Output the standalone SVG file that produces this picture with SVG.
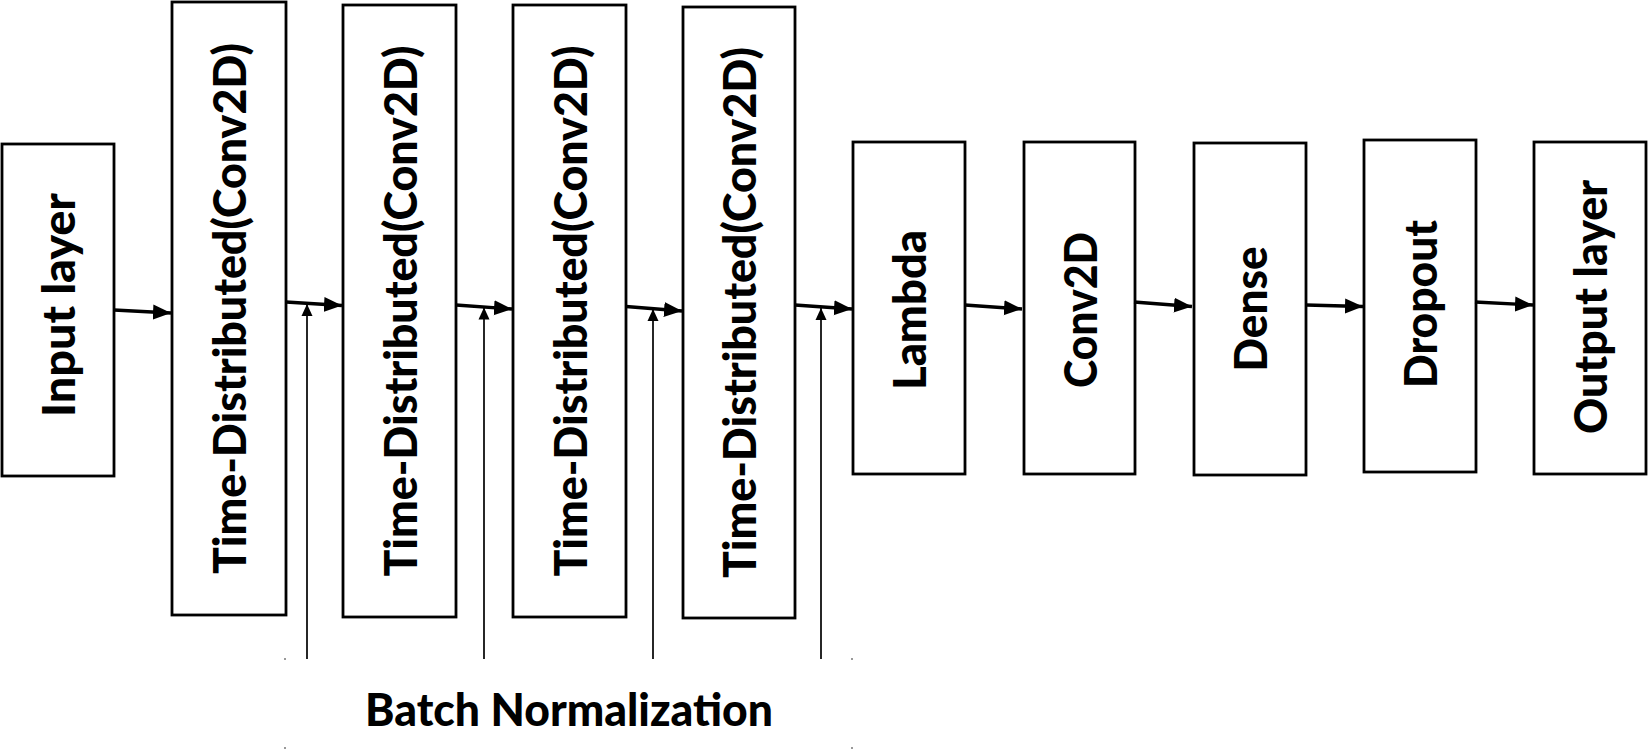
<svg xmlns="http://www.w3.org/2000/svg" width="1648" height="751" viewBox="0 0 1648 751">
<style>
.box{fill:#fff;stroke:#000;stroke-width:2.8}
.lbl{font-family:Lato,"Open Sans","Liberation Sans",sans-serif;font-weight:900;font-size:46px;fill:#000;text-anchor:middle}
.arr{stroke:#000;stroke-width:3.4;fill:none;marker-end:url(#ah)}
.thin{stroke:#000;stroke-width:1.7;fill:none;marker-end:url(#ahs)}
</style>
<defs>
<marker id="ah" markerUnits="userSpaceOnUse" markerWidth="19" markerHeight="16" refX="18" refY="8" orient="auto"><path d="M0,0.5 L18,8 L0,15.5 z" fill="#000"/></marker>
<marker id="ahs" markerUnits="userSpaceOnUse" markerWidth="13" markerHeight="12" refX="12" refY="6" orient="auto"><path d="M0,0.5 L12,6 L0,11.5 z" fill="#000"/></marker>
</defs>
<rect width="1648" height="751" fill="#fff"/>
<g id="input"><rect class="box" x="2" y="144" width="112" height="332"/><text class="lbl" transform="translate(75,305) rotate(-90)" textLength="224" lengthAdjust="spacingAndGlyphs">Input layer</text></g>
<g id="td1"><rect class="box" x="172" y="2" width="114" height="613"/><text class="lbl" transform="translate(246,308.5) rotate(-90)" textLength="531" lengthAdjust="spacingAndGlyphs">Time-Distributed(Conv2D)</text></g>
<g id="td2"><rect class="box" x="343" y="5" width="113" height="612"/><text class="lbl" transform="translate(416.5,311) rotate(-90)" textLength="531" lengthAdjust="spacingAndGlyphs">Time-Distributed(Conv2D)</text></g>
<g id="td3"><rect class="box" x="513" y="5" width="113" height="612"/><text class="lbl" transform="translate(586.5,311) rotate(-90)" textLength="531" lengthAdjust="spacingAndGlyphs">Time-Distributed(Conv2D)</text></g>
<g id="td4"><rect class="box" x="683" y="7" width="112" height="611"/><text class="lbl" transform="translate(756,312.5) rotate(-90)" textLength="531" lengthAdjust="spacingAndGlyphs">Time-Distributed(Conv2D)</text></g>
<g id="lambda"><rect class="box" x="853" y="142" width="112" height="332"/><text class="lbl" transform="translate(926,310) rotate(-90)" textLength="160" lengthAdjust="spacingAndGlyphs">Lambda</text></g>
<g id="conv2d"><rect class="box" x="1024" y="142" width="111" height="332"/><text class="lbl" transform="translate(1096.5,310) rotate(-90)" textLength="156" lengthAdjust="spacingAndGlyphs">Conv2D</text></g>
<g id="dense"><rect class="box" x="1194" y="143" width="112" height="332"/><text class="lbl" transform="translate(1267,309) rotate(-90)" textLength="125" lengthAdjust="spacingAndGlyphs">Dense</text></g>
<g id="dropout"><rect class="box" x="1364" y="140" width="112" height="332"/><text class="lbl" transform="translate(1437,304) rotate(-90)" textLength="168" lengthAdjust="spacingAndGlyphs">Dropout</text></g>
<g id="output"><rect class="box" x="1534" y="142" width="112" height="332"/><text class="lbl" transform="translate(1607,307) rotate(-90)" textLength="254" lengthAdjust="spacingAndGlyphs">Output layer</text></g>
<g id="batchnorm"><text class="lbl" x="569" y="726" textLength="408" lengthAdjust="spacingAndGlyphs">Batch Normalization</text>
<rect x="284" y="658" width="2" height="2" fill="#999"/><rect x="851" y="658" width="2" height="2" fill="#999"/><rect x="284" y="747" width="2" height="2" fill="#999"/><rect x="851" y="747" width="2" height="2" fill="#999"/></g>
<g id="connectors">
<line class="arr" x1="114" y1="310" x2="171" y2="313"/>
<line class="arr" x1="286" y1="302" x2="342" y2="305.5"/>
<line class="arr" x1="456" y1="305" x2="512" y2="309"/>
<line class="arr" x1="626" y1="306.5" x2="682" y2="311"/>
<line class="arr" x1="795" y1="305" x2="852" y2="309"/>
<line class="arr" x1="965" y1="305" x2="1022" y2="309"/>
<line class="arr" x1="1134" y1="302" x2="1192" y2="306.5"/>
<line class="arr" x1="1306" y1="305" x2="1363" y2="306.5"/>
<line class="arr" x1="1475" y1="302" x2="1533" y2="305"/>
<line class="thin" x1="307" y1="659" x2="307" y2="304"/>
<line class="thin" x1="484" y1="659" x2="484" y2="307.5"/>
<line class="thin" x1="653" y1="659" x2="653" y2="309"/>
<line class="thin" x1="821" y1="659" x2="821" y2="308"/>
</g>
</svg>
